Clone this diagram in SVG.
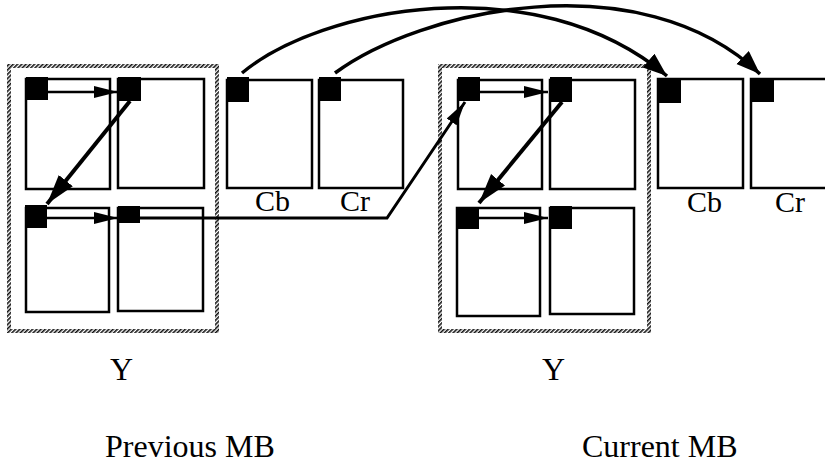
<svg xmlns="http://www.w3.org/2000/svg" width="825" height="465" viewBox="0 0 825 465">
  <defs>
    <pattern id="hatch" width="3" height="3" patternUnits="userSpaceOnUse" patternTransform="rotate(45)">
      <rect width="3" height="3" fill="#fff"/>
      <rect width="1.6" height="3" fill="#111"/>
    </pattern>
    <marker id="headS" markerUnits="userSpaceOnUse" markerWidth="26" markerHeight="14" refX="24" refY="6" orient="auto">
      <path d="M0,0 L24,6 L0,12 Z" fill="#000"/>
    </marker>
    <marker id="headL" markerUnits="userSpaceOnUse" markerWidth="32" markerHeight="20" refX="30" refY="9" orient="auto">
      <path d="M0,0 L30,9 L0,18 Z" fill="#000"/>
    </marker>
    <marker id="headC" markerUnits="userSpaceOnUse" markerWidth="26" markerHeight="20" refX="24" refY="9" orient="auto">
      <path d="M0,0 L24,9 L0,18 Z" fill="#000"/>
    </marker>
  </defs>
  <style>
    .frame { fill: none; stroke: url(#hatch); stroke-width: 4; }
    .blk { fill: #fff; stroke: #000; stroke-width: 2.5; }
    .sq { fill: #000; }
    .lbl { font-family: "Liberation Serif", "Times New Roman", serif; fill: #000; }
    .sm { font-size: 30px; }
    .lg { font-size: 32px; }
    .arrS { fill: none; stroke: #000; stroke-width: 2.5; marker-end: url(#headS); }
    .arrL { fill: none; stroke: #000; stroke-width: 4; marker-end: url(#headL); }
    .arrC { fill: none; stroke: #000; stroke-width: 3.5; marker-end: url(#headC); }
  </style>

  <!-- previous macroblock: luma -->
  <g id="prevY">
    <rect class="frame" x="9" y="66" width="208" height="265"/>
    <rect class="blk" x="26" y="79" width="84" height="110"/>
    <rect class="blk" x="118" y="79" width="86" height="109"/>
    <rect class="blk" x="26" y="208" width="83" height="104"/>
    <rect class="blk" x="118" y="208" width="85" height="103"/>
    <rect class="sq" x="26" y="77" width="22" height="23"/>
    <rect class="sq" x="118" y="77" width="23" height="24"/>
    <rect class="sq" x="25" y="205" width="22" height="23"/>
    <rect class="sq" x="118" y="206" width="22" height="17"/>
    <text class="lbl lg" x="110" y="380">Y</text>
  </g>

  <!-- previous macroblock: chroma -->
  <g id="prevCb">
    <rect class="blk" x="227" y="80" width="85" height="108"/>
    <rect class="sq" x="227" y="77" width="22" height="25"/>
    <text class="lbl sm" x="255" y="211">Cb</text>
  </g>
  <g id="prevCr">
    <rect class="blk" x="319" y="80" width="84" height="108"/>
    <rect class="sq" x="319" y="77" width="22" height="24"/>
    <text class="lbl sm" x="340" y="211">Cr</text>
  </g>

  <!-- current macroblock: luma -->
  <g id="curY">
    <rect class="frame" x="440" y="66" width="209" height="265"/>
    <rect class="blk" x="458" y="80" width="84" height="109"/>
    <rect class="blk" x="550" y="80" width="85" height="109"/>
    <rect class="blk" x="457" y="208" width="83" height="108"/>
    <rect class="blk" x="550" y="208" width="84" height="106"/>
    <rect class="sq" x="458" y="77" width="22" height="24"/>
    <rect class="sq" x="550" y="77" width="22" height="25"/>
    <rect class="sq" x="457" y="207" width="22" height="22"/>
    <rect class="sq" x="550" y="206" width="22" height="23"/>
    <text class="lbl lg" x="542" y="380">Y</text>
  </g>

  <!-- current macroblock: chroma -->
  <g id="curCb">
    <rect class="blk" x="658" y="79" width="85" height="109"/>
    <rect class="sq" x="658" y="78" width="23" height="25"/>
    <text class="lbl sm" x="687" y="212">Cb</text>
  </g>
  <g id="curCr">
    <path d="M830,79 H751 V188 H830" fill="#fff" stroke="#000" stroke-width="2.5"/>
    <rect class="sq" x="752" y="78" width="22" height="24"/>
    <text class="lbl sm" x="775" y="212">Cr</text>
  </g>

  <g id="captions">
    <text class="lbl lg" x="105" y="457">Previous MB</text>
    <text class="lbl lg" x="582" y="457">Current MB</text>
  </g>

  <!-- scan order connectors -->
  <g id="connectors">
    <line class="arrS" x1="48" y1="92" x2="118" y2="92"/>
    <line class="arrL" x1="130" y1="101" x2="47" y2="204"/>
    <line class="arrS" x1="47" y1="218" x2="118" y2="218"/>
    <polyline class="arrS" points="140,218 387,218 465,102" style="stroke-width:3"/>
    <line class="arrS" x1="480" y1="92" x2="548" y2="92"/>
    <line class="arrL" x1="562" y1="102" x2="479" y2="203"/>
    <line class="arrS" x1="479" y1="218" x2="548" y2="218"/>
    <path class="arrC" d="M242,73 C320,8 535,-35 667,76"/>
    <path class="arrC" d="M335,73 C420,10 640,-40 760,74"/>
  </g>
</svg>
